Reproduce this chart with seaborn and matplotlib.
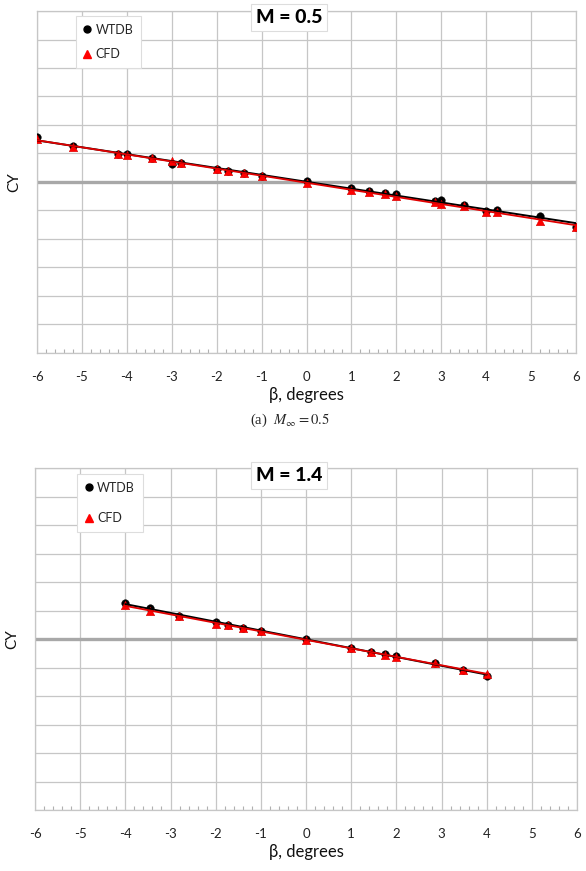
import numpy as np
import pandas as pd
import matplotlib
matplotlib.use("Agg")
import matplotlib.pyplot as plt
from matplotlib.lines import Line2D
from matplotlib.ticker import MultipleLocator, NullFormatter
import seaborn as sns

# ---------------- data (CY in grid units of 0.01) ----------------
beta_05 = [-6, -5.2, -4.2, -4, -3.45, -3, -2.8, -2, -1.75, -1.4, -1, 0,
           1, 1.4, 1.75, 2, 2.85, 3, 3.5, 4, 4.25, 5.2, 6]
cy_cfd_05 = [1.51, 1.23, 0.97, 0.96, 0.84, 0.74, 0.67, 0.46, 0.39, 0.32, 0.21, -0.05,
             -0.28, -0.35, -0.42, -0.49, -0.70, -0.77, -0.84, -1.05, -1.05, -1.37, -1.58]
cy_wtdb_05 = [1.58, 1.25, 0.99, 0.97, 0.84, 0.63, 0.68, 0.47, 0.40, 0.33, 0.22, 0.04,
              -0.21, -0.33, -0.40, -0.42, -0.67, -0.63, -0.82, -1.02, -0.98, -1.19, -1.58]

beta_14 = [-4, -3.46, -2.82, -2, -1.72, -1.4, -1, 0, 1, 1.43, 1.74, 2, 2.85, 3.48, 4]
cy_cfd_14 = [1.19, 0.98, 0.81, 0.53, 0.49, 0.39, 0.28, -0.03, -0.32, -0.46, -0.55,
             -0.62, -0.85, -1.09, -1.22]
cy_wtdb_14 = [1.27, 1.09, 0.81, 0.60, 0.49, 0.39, 0.28, 0.0, -0.32, -0.46, -0.53,
              -0.60, -0.85, -1.09, -1.29]

x_ticks = [-6, -5, -4, -3, -2, -1, 0, 1, 2, 3, 4, 5, 6]
titles = ["M = 0.5", "M = 1.4"]
legend_labels = ["WTDB", "CFD"]
x_label = "β, degrees"
y_label = "CY"
caption = r"(a)  $M_{\infty} = \mathrm{0.5}$"

scale = 0.01

sns.set_theme(style="white")
plt.rcParams["font.family"] = ["Lato", "DejaVu Sans"]
plt.rcParams["axes.unicode_minus"] = False
plt.rcParams["mathtext.fontset"] = "stix"

fig = plt.figure(figsize=(5.86, 8.71), dpi=100)
W, H = 586, 871


def ax_rect(l, r, t, b):
    return [l / W, 1 - b / H, (r - l) / W, (b - t) / H]


ax1 = fig.add_axes(ax_rect(37, 576, 11, 353))
ax2 = fig.add_axes(ax_rect(35, 577, 468, 810))

grid_c = "#c6c6c6"


def draw(ax, beta, cy_w, cy_c, title, leg_spacing, title_xy):
    df_w = pd.DataFrame({"beta": beta, "cy": np.array(cy_w) * scale})
    df_c = pd.DataFrame({"beta": beta, "cy": np.array(cy_c) * scale})
    ax.set_xlim(-6, 6)
    ax.set_ylim(-0.06, 0.06)
    ax.xaxis.set_major_locator(MultipleLocator(1))
    ax.xaxis.set_minor_locator(MultipleLocator(0.2))
    ax.yaxis.set_major_locator(MultipleLocator(0.01))
    ax.yaxis.set_major_formatter(NullFormatter())
    ax.set_xticks(x_ticks)
    ax.set_xticklabels([str(t) for t in x_ticks])
    ax.grid(True, which="major", color=grid_c, linewidth=0.9, zorder=0)
    ax.set_axisbelow(True)
    ax.axhline(0, color="#a8a8a8", linewidth=2.4, zorder=1)
    for s in ax.spines.values():
        s.set_color(grid_c)
        s.set_linewidth(0.9)
    ax.tick_params(axis="x", which="major", length=0, pad=13, labelsize=9.5, colors="#222222")
    ax.tick_params(axis="x", which="minor", length=3, direction="in", color="#b0b0b0", width=0.8, bottom=True)
    ax.tick_params(axis="y", which="both", length=0)

    sns.scatterplot(data=df_w, x="beta", y="cy", ax=ax, color="black", marker="o",
                    s=30, edgecolor="black", linewidth=0.3, zorder=3, legend=False)
    sns.scatterplot(data=df_c, x="beta", y="cy", ax=ax, color="#ff0000", marker="^",
                    s=38, edgecolor="#cc0000", linewidth=0.3, zorder=4, legend=False)
    sns.regplot(data=df_w, x="beta", y="cy", ax=ax, scatter=False, ci=None, truncate=True,
                line_kws=dict(color="black", linewidth=1.4, zorder=5))
    sns.regplot(data=df_c, x="beta", y="cy", ax=ax, scatter=False, ci=None, truncate=True,
                line_kws=dict(color="#e00000", linewidth=1.3, zorder=6))

    ax.set_xlabel(x_label, fontsize=12, labelpad=3, color="#111111")
    ax.set_ylabel(y_label, fontsize=11, labelpad=8, color="#111111")

    handles = [Line2D([], [], marker="o", color="black", linestyle="none", markersize=5),
               Line2D([], [], marker="^", color="#ff0000", linestyle="none", markersize=6)]
    leg = ax.legend(handles, legend_labels, loc="upper left",
                    bbox_to_anchor=leg_spacing[0], fontsize=9, frameon=True,
                    fancybox=False, framealpha=1, edgecolor="#dddddd",
                    handlelength=0.6, handletextpad=0.4, labelspacing=leg_spacing[1],
                    borderpad=0.6, borderaxespad=0)
    leg.get_frame().set_linewidth(0.8)
    leg.set_zorder(10)

    ax.text(title_xy[0], title_xy[1], title, transform=ax.transAxes, ha="center",
            va="center", fontsize=14, fontweight="black", color="black", zorder=11,
            bbox=dict(boxstyle="square,pad=0.25", facecolor="white", edgecolor="#dddddd",
                      linewidth=0.8))


draw(ax1, beta_05, cy_wtdb_05, cy_cfd_05, titles[0],
     ((0.072, 0.985), 1.0), (0.4675, 0.982))
draw(ax2, beta_14, cy_wtdb_14, cy_cfd_14, titles[1],
     ((0.078, 0.982), 1.5), (0.469, 0.978))

fig.text(290 / W, 1 - 420 / H, caption, ha="center", va="center", fontsize=10.5,
         family=["Liberation Serif", "DejaVu Serif"])

fig.savefig("out.png", dpi=100)
